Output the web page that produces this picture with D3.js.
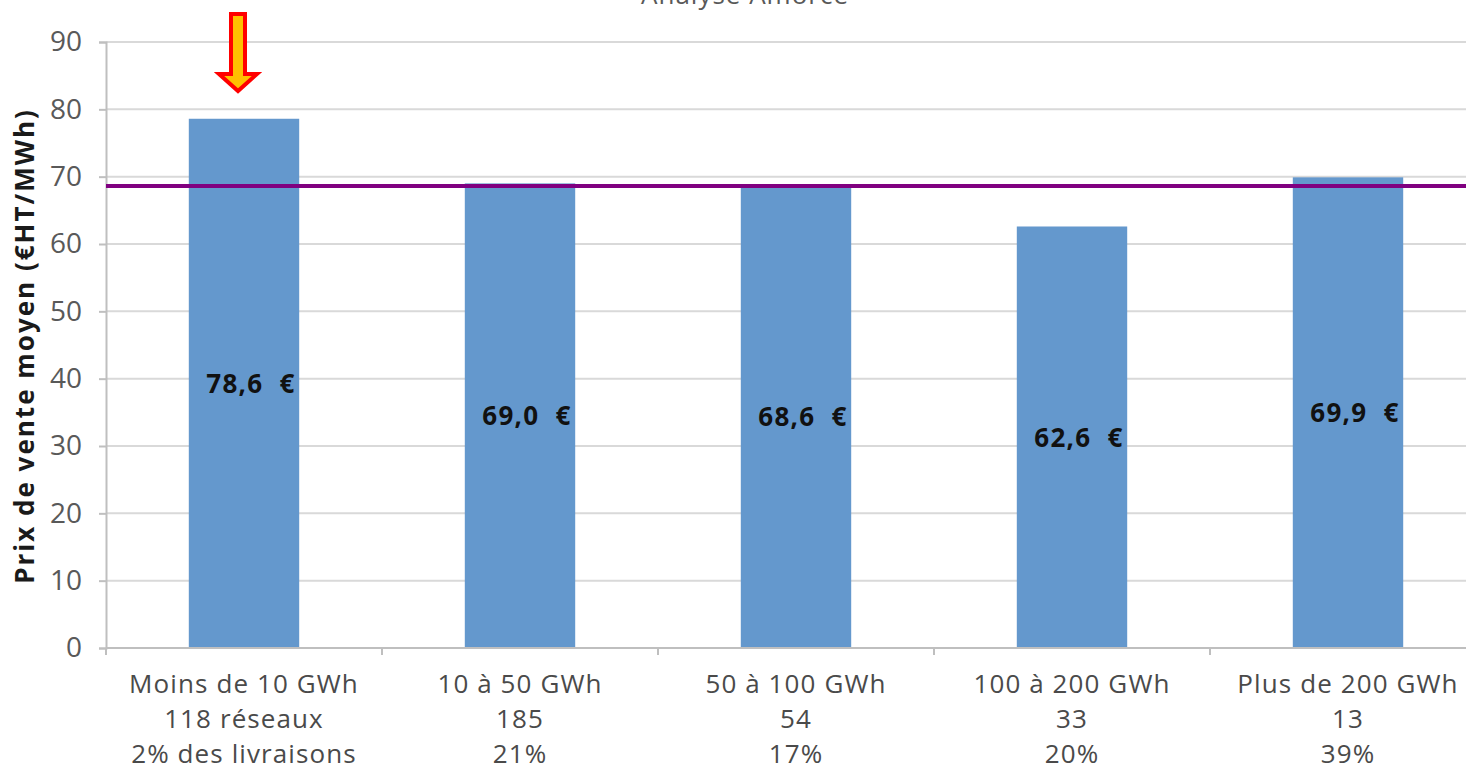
<!DOCTYPE html>
<html><head><meta charset="utf-8">
<script src="https://cdn.jsdelivr.net/npm/d3@7"></script>
<style>body{margin:0;background:#fff;overflow:hidden}svg{display:block}</style>
</head><body>
<svg id="c" width="1466" height="770"></svg>
<script>
const categories = ["Moins de 10 GWh", "10 à 50 GWh", "50 à 100 GWh", "100 à 200 GWh", "Plus de 200 GWh"];
const networks = ["118 réseaux", "185", "54", "33", "13"];
const shares = ["2% des livraisons", "21%", "17%", "20%", "39%"];
const prices = [78.6, 69.0, 68.6, 62.6, 69.9];
const priceLabels = ["78,6  €", "69,0  €", "68,6  €", "62,6  €", "69,9  €"];
const averagePrice = [68.6];
const yTicks = [0, 10, 20, 30, 40, 50, 60, 70, 80, 90];
const title = "Analyse Amorce";
const yTitle = "Prix de vente moyen (€HT/MWh)";

const svg = d3.select("#c");
const font = "'Open Sans', 'Noto Sans', sans-serif";
const x0 = 106, step = 276;
const x = d3.scaleBand().domain(categories).range([x0, x0 + step * categories.length]).paddingInner(0.6).paddingOuter(0.3);
const y = d3.scaleLinear().domain([0, 90]).range([648, 42]);

// title (cropped at top, as in the reference)
svg.append("text").attr("x", 745).attr("y", 4).attr("text-anchor", "middle")
  .attr("font-family", font).attr("font-size", 26).attr("letter-spacing", 1).attr("fill", "#595959").text(title);

// gridlines
svg.append("g").selectAll("line").data(yTicks.filter(d => d > 0)).join("line")
  .attr("x1", x0).attr("x2", 1466).attr("y1", d => y(d)).attr("y2", d => y(d))
  .attr("stroke", "#d9d9d9").attr("stroke-width", 2);

// y axis
const ya = svg.append("g").attr("transform", `translate(${x0},0)`)
  .call(d3.axisLeft(y).tickValues(yTicks).tickSize(7).tickPadding(17));
ya.select(".domain").attr("stroke", "#bfbfbf").attr("stroke-width", 2);
ya.selectAll(".tick line").attr("stroke", "#bfbfbf").attr("stroke-width", 2);
ya.selectAll(".tick text").attr("font-family", font).attr("font-size", 28).attr("fill", "#595959");

// bars
svg.append("g").selectAll("rect").data(prices).join("rect")
  .attr("x", (d, i) => x(categories[i])).attr("width", x.bandwidth())
  .attr("y", d => y(d)).attr("height", d => y(0) - y(d))
  .attr("fill", "#6498cd");

// x axis
const boundaries = d3.range(categories.length + 1).map(i => x0 + i * step);
svg.append("line").attr("x1", x0).attr("x2", 1466).attr("y1", y(0)).attr("y2", y(0))
  .attr("stroke", "#bfbfbf").attr("stroke-width", 2);
svg.append("g").selectAll("line").data(boundaries).join("line")
  .attr("x1", d => d).attr("x2", d => d).attr("y1", y(0)).attr("y2", y(0) + 7)
  .attr("stroke", "#bfbfbf").attr("stroke-width", 2);

const xl = svg.append("g").attr("font-family", font).attr("font-size", 26).attr("letter-spacing", 1.1)
  .attr("fill", "#4a4a4a").attr("text-anchor", "middle");
categories.forEach((c, i) => {
  const cx = x(c) + x.bandwidth() / 2;
  const t = xl.append("text").attr("x", cx);
  [c, networks[i], shares[i]].forEach((s, j) => {
    t.append("tspan").attr("x", cx).attr("y", 693 + j * 35).text(s);
  });
});

// average line
svg.append("g").selectAll("line").data(averagePrice).join("line")
  .attr("x1", x0).attr("x2", 1466).attr("y1", d => y(d)).attr("y2", d => y(d))
  .attr("stroke", "#800080").attr("stroke-width", 4);

// bar labels
svg.append("g").selectAll("text").data(prices).join("text")
  .attr("x", (d, i) => x(categories[i]) + x.bandwidth() / 2 + 7)
  .attr("y", d => y(d / 2)).attr("dy", "0.36em")
  .attr("text-anchor", "middle").attr("font-family", font).attr("font-weight", "bold")
  .attr("font-size", 26).attr("letter-spacing", 1.3).attr("fill", "#111")
  .style("white-space", "pre").text((d, i) => priceLabels[i]);

// y title
svg.append("text").attr("transform", `translate(34,${346}) rotate(-90)`)
  .attr("text-anchor", "middle").attr("font-family", font).attr("font-weight", "bold")
  .attr("font-size", 26).attr("letter-spacing", 2).attr("fill", "#1a1a1a").text(yTitle);

// arrow
const ax = x(categories[0]) + x.bandwidth() / 2 - 6;
const arrow = d3.path();
arrow.moveTo(ax - 7, 14); arrow.lineTo(ax + 7, 14); arrow.lineTo(ax + 7, 74);
arrow.lineTo(ax + 19, 74); arrow.lineTo(ax, 91); arrow.lineTo(ax - 19, 74);
arrow.lineTo(ax - 7, 74); arrow.closePath();
svg.append("path").attr("d", arrow.toString()).attr("fill", "#ffc000")
  .attr("stroke", "#ff0000").attr("stroke-width", 4).attr("stroke-linejoin", "miter");
</script>
</body></html>
